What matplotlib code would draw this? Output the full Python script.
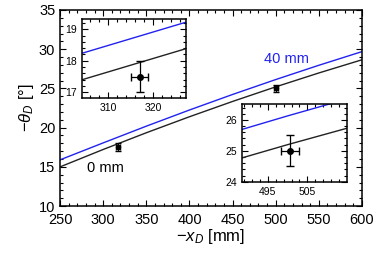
import matplotlib
matplotlib.use('Agg')
import matplotlib.pyplot as plt
from matplotlib.ticker import MultipleLocator

plt.rcParams['font.family'] = ['Liberation Sans', 'DejaVu Sans']
plt.rcParams['mathtext.fontset'] = 'custom'
plt.rcParams['mathtext.rm'] = 'Liberation Sans'
plt.rcParams['mathtext.it'] = 'Liberation Sans:italic'

# model curves (-x_D in mm, -theta_D in degrees)
xd = [250, 300, 350, 400, 450, 500, 550, 600]
theta_0mm = [15.0, 17.22, 19.35, 21.39, 23.34, 25.2, 26.97, 28.65]
theta_40mm = [15.9, 18.06, 20.19, 22.25, 24.23, 26.13, 27.95, 29.69]

# measurements
meas_x = [317, 500.7]
meas_y = [17.5, 25.0]
meas_xerr = [2.0, 2.3]
meas_yerr = [0.5, 0.5]


def style(ax, xmaj, xmin, ymaj, ymin, size, xoff=0):
    ax.xaxis.set_major_locator(MultipleLocator(xmaj, offset=xoff))
    ax.xaxis.set_minor_locator(MultipleLocator(xmin, offset=xoff % xmin))
    ax.yaxis.set_major_locator(MultipleLocator(ymaj))
    ax.yaxis.set_minor_locator(MultipleLocator(ymin))
    ax.tick_params(which='both', direction='in', top=True, right=True,
                   labelsize=size, width=0.8)
    ax.tick_params(which='major', length=4)
    ax.tick_params(which='minor', length=2)
    for s in ax.spines.values():
        s.set_linewidth(1.1)


def draw(ax, ms):
    ax.plot(xd, theta_40mm, color='#2222ee', lw=1.0)
    ax.plot(xd, theta_0mm, color='#222222', lw=1.0)
    ax.errorbar(meas_x, meas_y, xerr=meas_xerr, yerr=meas_yerr, fmt='o',
                color='black', ms=ms, elinewidth=0.9, capsize=ms * 0.7)


fig = plt.figure(figsize=(3.83, 2.56), dpi=100)
ax = fig.add_axes([0.157, 0.195, 0.788, 0.766])
draw(ax, 3)
ax.set_xlim(250, 600)
ax.set_ylim(10, 35)
style(ax, 50, 10, 5, 1, 10.5)
ax.tick_params(axis='x', pad=5)
ax.set_xlabel(r'$-x_D$ [mm]', fontsize=12, labelpad=0)
ax.set_ylabel(r'$-\theta_D$ [°]', fontsize=12, labelpad=2)
ax.text(512, 28.75, '40 mm', color='#2222ee', fontsize=10.5,
        ha='center', va='center')
ax.text(302, 14.85, '0 mm', color='black', fontsize=10.5,
        ha='center', va='center')

ins1 = fig.add_axes([0.213, 0.616, 0.272, 0.309])
draw(ins1, 4)
ins1.set_xlim(304.1, 327.3)
ins1.set_ylim(16.81, 19.32)
style(ins1, 10, 2, 1, 0.2, 7.5)

ins2 = fig.add_axes([0.631, 0.290, 0.274, 0.302])
draw(ins2, 4)
ins2.set_xlim(488.4, 514.9)
ins2.set_ylim(24.0, 26.5)
style(ins2, 10, 2, 1, 0.2, 7.5, xoff=5)

fig.savefig('out.png', dpi=100)
